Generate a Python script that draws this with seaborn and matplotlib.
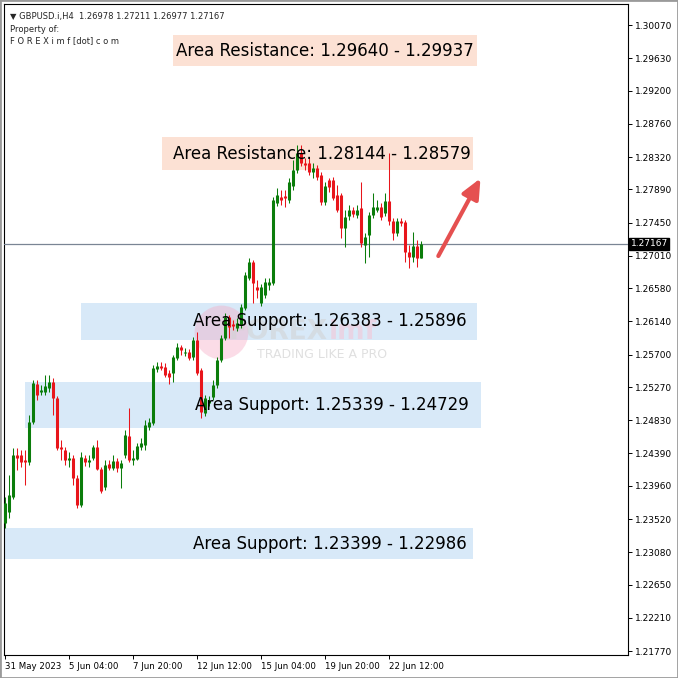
import numpy as np
import pandas as pd
import matplotlib
matplotlib.use("Agg")
import matplotlib.pyplot as plt
import matplotlib.transforms as mtransforms
import seaborn as sns

# GBPUSD.i H4 candles, 31 May 2023 12:00 .. 23 Jun 2023 20:00
opens = [1.23467, 1.23613, 1.23812, 1.24369, 1.24369, 1.24302, 1.24276, 1.24806, 1.25310, 1.25204,
         1.25204, 1.25257, 1.25337, 1.25125, 1.24475, 1.24435, 1.24302, 1.24329, 1.24064, 1.23706,
         1.24329, 1.24276, 1.24329, 1.24475, 1.24183, 1.23944, 1.24249, 1.24196, 1.24289, 1.24196,
         1.24369, 1.24621, 1.24302, 1.24316, 1.24475, 1.24501, 1.24740, 1.24793, 1.25509, 1.25549,
         1.25536, 1.25456, 1.25456, 1.25655, 1.25801, 1.25721, 1.25735, 1.25668, 1.25894, 1.25496,
         1.24926, 1.25058, 1.25138, 1.25297, 1.25628, 1.25920, 1.26199, 1.26106, 1.26053, 1.26093,
         1.26318, 1.26716, 1.26928, 1.26596, 1.26384, 1.26490, 1.26623, 1.26649, 1.27710, 1.27790,
         1.27803, 1.27750, 1.27936, 1.28148, 1.28373, 1.28241, 1.28241, 1.28121, 1.28174, 1.28082,
         1.27723, 1.28015, 1.28015, 1.27816, 1.27816, 1.27379, 1.27538, 1.27617, 1.27551, 1.27644,
         1.27153, 1.27286, 1.27551, 1.27617, 1.27657, 1.27578, 1.27737, 1.27471, 1.27312, 1.27471,
         1.27458, 1.27061, 1.26994, 1.27140, 1.26978]
highs = [1.23812, 1.24104, 1.24462, 1.24462, 1.24435, 1.24435, 1.24899, 1.25363, 1.25363, 1.25297,
         1.25430, 1.25430, 1.25390, 1.25151, 1.24568, 1.24475, 1.24409, 1.24369, 1.24104, 1.24409,
         1.24369, 1.24369, 1.24501, 1.24568, 1.24210, 1.24302, 1.24302, 1.24369, 1.24329, 1.24302,
         1.24700, 1.24992, 1.24435, 1.24528, 1.24594, 1.24833, 1.24859, 1.25562, 1.25602, 1.25602,
         1.25589, 1.25496, 1.25695, 1.25854, 1.25827, 1.25788, 1.25774, 1.25933, 1.26000, 1.25522,
         1.25164, 1.25151, 1.25363, 1.25668, 1.25960, 1.26252, 1.26225, 1.26159, 1.26185, 1.26371,
         1.26795, 1.26981, 1.26954, 1.26689, 1.26636, 1.26716, 1.26716, 1.27790, 1.27909, 1.27883,
         1.27883, 1.28042, 1.28280, 1.28479, 1.28479, 1.28307, 1.28307, 1.28241, 1.28214, 1.28121,
         1.27989, 1.28042, 1.28055, 1.27949, 1.27843, 1.27617, 1.27684, 1.27657, 1.27684, 1.27989,
         1.27312, 1.27591, 1.27843, 1.27750, 1.27710, 1.27843, 1.28373, 1.27511, 1.27511, 1.27511,
         1.27485, 1.27153, 1.27326, 1.27220, 1.27211]
lows = [1.23401, 1.23533, 1.23785, 1.24170, 1.24210, 1.23971, 1.24236, 1.24780, 1.25098, 1.25164,
        1.25164, 1.25204, 1.24899, 1.24435, 1.24302, 1.24236, 1.24210, 1.23971, 1.23666, 1.23679,
        1.24223, 1.24210, 1.24302, 1.24170, 1.23865, 1.23905, 1.24170, 1.24170, 1.24143, 1.23931,
        1.24329, 1.24276, 1.24236, 1.24302, 1.24435, 1.24435, 1.24700, 1.24767, 1.25469, 1.25496,
        1.25403, 1.25310, 1.25337, 1.25628, 1.25695, 1.25681, 1.25628, 1.25628, 1.25430, 1.24859,
        1.24886, 1.25018, 1.25098, 1.25257, 1.25602, 1.25894, 1.25920, 1.26026, 1.26013, 1.26053,
        1.26291, 1.26689, 1.26384, 1.26451, 1.26344, 1.26451, 1.26557, 1.26623, 1.27670, 1.27684,
        1.27657, 1.27710, 1.27883, 1.28108, 1.28201, 1.28148, 1.28082, 1.28042, 1.28015, 1.27684,
        1.27684, 1.27856, 1.27750, 1.27591, 1.27246, 1.27127, 1.27485, 1.27525, 1.27511, 1.27127,
        1.26915, 1.26994, 1.27511, 1.27591, 1.27485, 1.27538, 1.27419, 1.27220, 1.27273, 1.27405,
        1.26928, 1.26848, 1.26928, 1.26861, 1.26977]
closes = [1.23732, 1.23838, 1.24369, 1.24329, 1.24276, 1.24276, 1.24806, 1.25323, 1.25164, 1.25231,
          1.25284, 1.25337, 1.25125, 1.24462, 1.24448, 1.24302, 1.24329, 1.24064, 1.23706, 1.24342,
          1.24276, 1.24302, 1.24475, 1.24183, 1.23891, 1.24236, 1.24196, 1.24289, 1.24196, 1.24263,
          1.24634, 1.24302, 1.24329, 1.24488, 1.24528, 1.24767, 1.24806, 1.25522, 1.25549, 1.25522,
          1.25430, 1.25403, 1.25668, 1.25801, 1.25761, 1.25735, 1.25655, 1.25894, 1.25456, 1.24939,
          1.25125, 1.25098, 1.25297, 1.25628, 1.25920, 1.26199, 1.26066, 1.26079, 1.26119, 1.26331,
          1.26756, 1.26928, 1.26649, 1.26557, 1.26596, 1.26663, 1.26663, 1.27750, 1.27816, 1.27750,
          1.27776, 1.27989, 1.28148, 1.28373, 1.28241, 1.28214, 1.28121, 1.28174, 1.28055, 1.27723,
          1.27936, 1.27922, 1.27776, 1.27617, 1.27379, 1.27525, 1.27617, 1.27564, 1.27617, 1.27180,
          1.27259, 1.27551, 1.27657, 1.27657, 1.27525, 1.27737, 1.27471, 1.27312, 1.27471, 1.27445,
          1.27061, 1.26994, 1.27140, 1.26981, 1.27167]

last_price = 1.27167

ytick_vals = [1.30070, 1.29630, 1.29200, 1.28760, 1.28320, 1.27890, 1.27450, 1.27010, 1.26580,
              1.26140, 1.25700, 1.25270, 1.24830, 1.24390, 1.23960, 1.23520, 1.23080, 1.22650,
              1.22210, 1.21770]
xtick_pos = [0, 16, 32, 48, 64, 80, 96]
xtick_labels = ["31 May 2023", "5 Jun 04:00", "7 Jun 20:00", "12 Jun 12:00",
                "15 Jun 04:00", "19 Jun 20:00", "22 Jun 12:00"]

# zones: label values as written, and the drawn rectangle edges
zone_names = ["Area Resistance", "Area Resistance", "Area Support", "Area Support", "Area Support"]
zone_first = [1.29640, 1.28144, 1.26383, 1.25339, 1.23399]
zone_second = [1.29937, 1.28579, 1.25896, 1.24729, 1.22986]
box_low = [1.29527, 1.28144, 1.25896, 1.24729, 1.22986]
box_high = [1.29937, 1.28579, 1.26383, 1.25339, 1.23399]

df = pd.DataFrame({"open": opens, "high": highs, "low": lows, "close": closes})
df["bar"] = np.arange(len(df))
df["up"] = df["close"] >= df["open"]

sns.set_theme(style="white")
plt.rcParams["font.family"] = ["DejaVu Sans"]

fig = plt.figure(figsize=(6.78, 6.78), dpi=100)
ax = fig.add_axes([4 / 678, 23 / 678, 624 / 678, 651 / 678])

GREEN = "#0b7d0b"
RED = "#e8151b"

zone_x0 = [42, 39.25, 19, 5, 0]
zone_x1 = [118, 117, 118, 119, 117]
zone_tx = [42.75, 42, 47, 47.5, 47]
for name, a, b, lo, hi, x0, x1, tx in zip(zone_names, zone_first, zone_second, box_low,
                                          box_high, zone_x0, zone_x1, zone_tx):
    col = "#fce1d4" if "Resistance" in name else "#d8e9f8"
    ax.fill_between([x0, x1], lo, hi, color=col, lw=0, zorder=1)
    ax.text(tx, (lo + hi) / 2, f"{name}: {a:.5f} - {b:.5f}", fontsize=12,
            va="center", ha="left", color="black", zorder=6)

# watermark
ax.scatter([54], [1.26005], s=1500, color="#f6a9c3", alpha=0.4, lw=0, zorder=2)
ax.text(56, 1.25995, "FOREX", fontsize=19, fontweight="bold", color="#d2d2d2",
        alpha=0.55, va="center", zorder=2)
ax.text(81, 1.25995, "imf", fontsize=19, fontweight="bold", color="#f7c3d4",
        alpha=0.55, va="center", zorder=2)
ax.text(63, 1.2570, "TRADING LIKE A PRO", fontsize=9, color="#d8d8d8",
        alpha=0.8, va="center", zorder=2)

# candles: 1px wicks, 3px bodies
ax.axhline(last_price, color="#7a8594", lw=0.9, zorder=3)
colors = np.where(df["up"], GREEN, RED)
ax.vlines(df["bar"], df["low"], df["high"], colors=colors, lw=0.75, zorder=4)
body_lo = np.minimum(df["open"], df["close"])
body_hi = np.maximum(np.maximum(df["open"], df["close"]), body_lo + 0.00013)
ax.vlines(df["bar"], body_lo, body_hi, colors=colors, lw=2.2, capstyle="butt", zorder=5)

# arrow
ax.annotate("", xy=(119.2, 1.28070), xytext=(108, 1.26975),
            arrowprops=dict(arrowstyle="-|>,head_length=1.0,head_width=0.45",
                            color="#e55050", lw=3), zorder=7)

ax.set_xlim(-0.25, 155.75)
ax.set_ylim(1.21717, 1.30349)
ax.yaxis.tick_right()
ax.set_yticks(ytick_vals)
ax.set_yticklabels([f"{v:.5f}" for v in ytick_vals])
ax.set_xticks(xtick_pos)
ax.set_xticklabels(xtick_labels)
for lab in ax.get_xticklabels():
    lab.set_ha("left")
    lab.set_fontsize(6.2)
ax.tick_params(axis="both", direction="out", length=3, width=0.7, labelsize=6.5,
               color="black", labelcolor="black", pad=2)
ax.tick_params(axis="x", labelsize=6.2)
ax.tick_params(axis="y", right=True, left=False)
ax.tick_params(axis="x", bottom=True)
for sp in ax.spines.values():
    sp.set_color("black")
    sp.set_linewidth(0.8)

# price tag on the right axis
trans = mtransforms.blended_transform_factory(ax.transAxes, ax.transData)
ax.text(1.004, last_price, "1.27167", transform=trans, fontsize=6.5, color="white",
        va="center", ha="left", bbox=dict(boxstyle="square,pad=0.15", fc="black", ec="black"),
        zorder=8, clip_on=False)

# header
ax.text(0.01, 0.987, "\u25bc GBPUSD.i,H4  1.26978 1.27211 1.26977 1.27167", transform=ax.transAxes,
        fontsize=6.05, va="top", ha="left")
ax.text(0.01, 0.968, "Property of:", transform=ax.transAxes, fontsize=6.05, va="top", ha="left")
ax.text(0.01, 0.950, "F O R E X i m f [dot] c o m", transform=ax.transAxes, fontsize=6.05,
        va="top", ha="left")

fig.patches.append(plt.Rectangle((0, 0), 1, 1, transform=fig.transFigure, fill=False,
                                 ec="#9a9a9a", lw=2))

fig.savefig("out.png", dpi=100)
